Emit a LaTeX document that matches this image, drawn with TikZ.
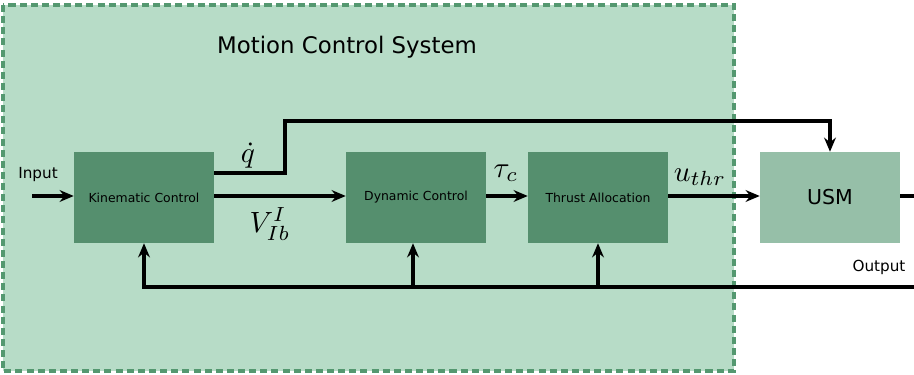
\documentclass[tikz,border=0pt]{standalone}
\usepackage{fontspec}
\setmainfont{DejaVu Sans}
\usetikzlibrary{arrows.meta, positioning}
\definecolor{sysbg}{RGB}{183, 220, 199}
\definecolor{sysedge}{RGB}{84, 152, 112}
\definecolor{blockfill}{RGB}{85, 143, 110}
\definecolor{plantfill}{RGB}{150, 191, 168}

\tikzset{
    ctrlblock/.style={fill=blockfill, minimum width=4.2cm, minimum height=2.73cm, inner sep=0pt, font=\fontsize{10.6}{12}\selectfont},
    plantblock/.style={fill=plantfill, minimum width=4.2cm, minimum height=2.73cm, inner sep=0pt, font=\fontsize{17.5}{19}\selectfont},
    sig/.style={line width=3pt, -{Stealth[length=12pt, width=10pt]}},
    wire/.style={line width=3pt},
    mathlbl/.style={font=\fontsize{10}{12}\selectfont, scale=2.5},
    txtlbl/.style={font=\fontsize{13}{15}\selectfont}
}

\begin{document}
\begin{tikzpicture}[x=0.03cm, y=-0.03cm]
    \useasboundingbox (0, 0) rectangle (914, 375);

    % Motion control system frame
    \draw[fill=sysbg, draw=sysedge, line width=2.8pt, dash pattern=on 6pt off 3.5pt] (3, 5) rectangle (734, 371);
    \node[font=\fontsize{19.5}{22}\selectfont] (title) at (347, 47) {Motion Control System};

    % Blocks
    \node[ctrlblock] (kin) at (144, 197.5) {Kinematic Control};
    \node[ctrlblock] (dyn) at (416, 197.5) {Dynamic Control};
    \node[ctrlblock] (thr) at (598, 197.5) {Thrust Allocation};
    \node[plantblock] (usm) at (830, 197.5) {USM};

    % Free ends
    \coordinate (in) at (32, 196);
    \coordinate (out) at (914, 196);
    \coordinate (fbr) at (914, 287);
    \coordinate (fbdyn) at (413, 287);
    \coordinate (qout) at (214, 173);
    \coordinate (qturn) at (285, 121);

    % Labels
    \node[txtlbl] (inlbl) at (38, 175) {Input};
    \node[txtlbl] (outlbl) at (879, 267) {Output};
    \node[mathlbl] (qdot) at (248, 156) {$\dot{q}$};
    \node[mathlbl] (vib) at (270, 224) {$V_{Ib}^{I}$};
    \node[mathlbl] (tauc) at (506, 173) {$\tau_c$};
    \node[mathlbl] (uthr) at (700, 177) {$u_{thr}$};

    % Forward path
    \draw[sig] (in) -- (kin.west |- in);
    \draw[sig] (kin.east |- in) -- (dyn.west |- in);
    \draw[sig] (dyn.east |- in) -- (thr.west |- in);
    \draw[sig] (thr.east |- in) -- (usm.west |- in);
    \draw[wire] (usm.east |- out) -- (out);
    \draw[sig] (qout) -| (qturn) -| (usm.north);

    % Feedback
    \draw[sig] (fbr) -| (kin.south);
    \draw[sig] (fbdyn) -- (fbdyn |- dyn.south);
    \draw[sig] (thr.south |- fbr) -- (thr.south);
\end{tikzpicture}
\end{document}
